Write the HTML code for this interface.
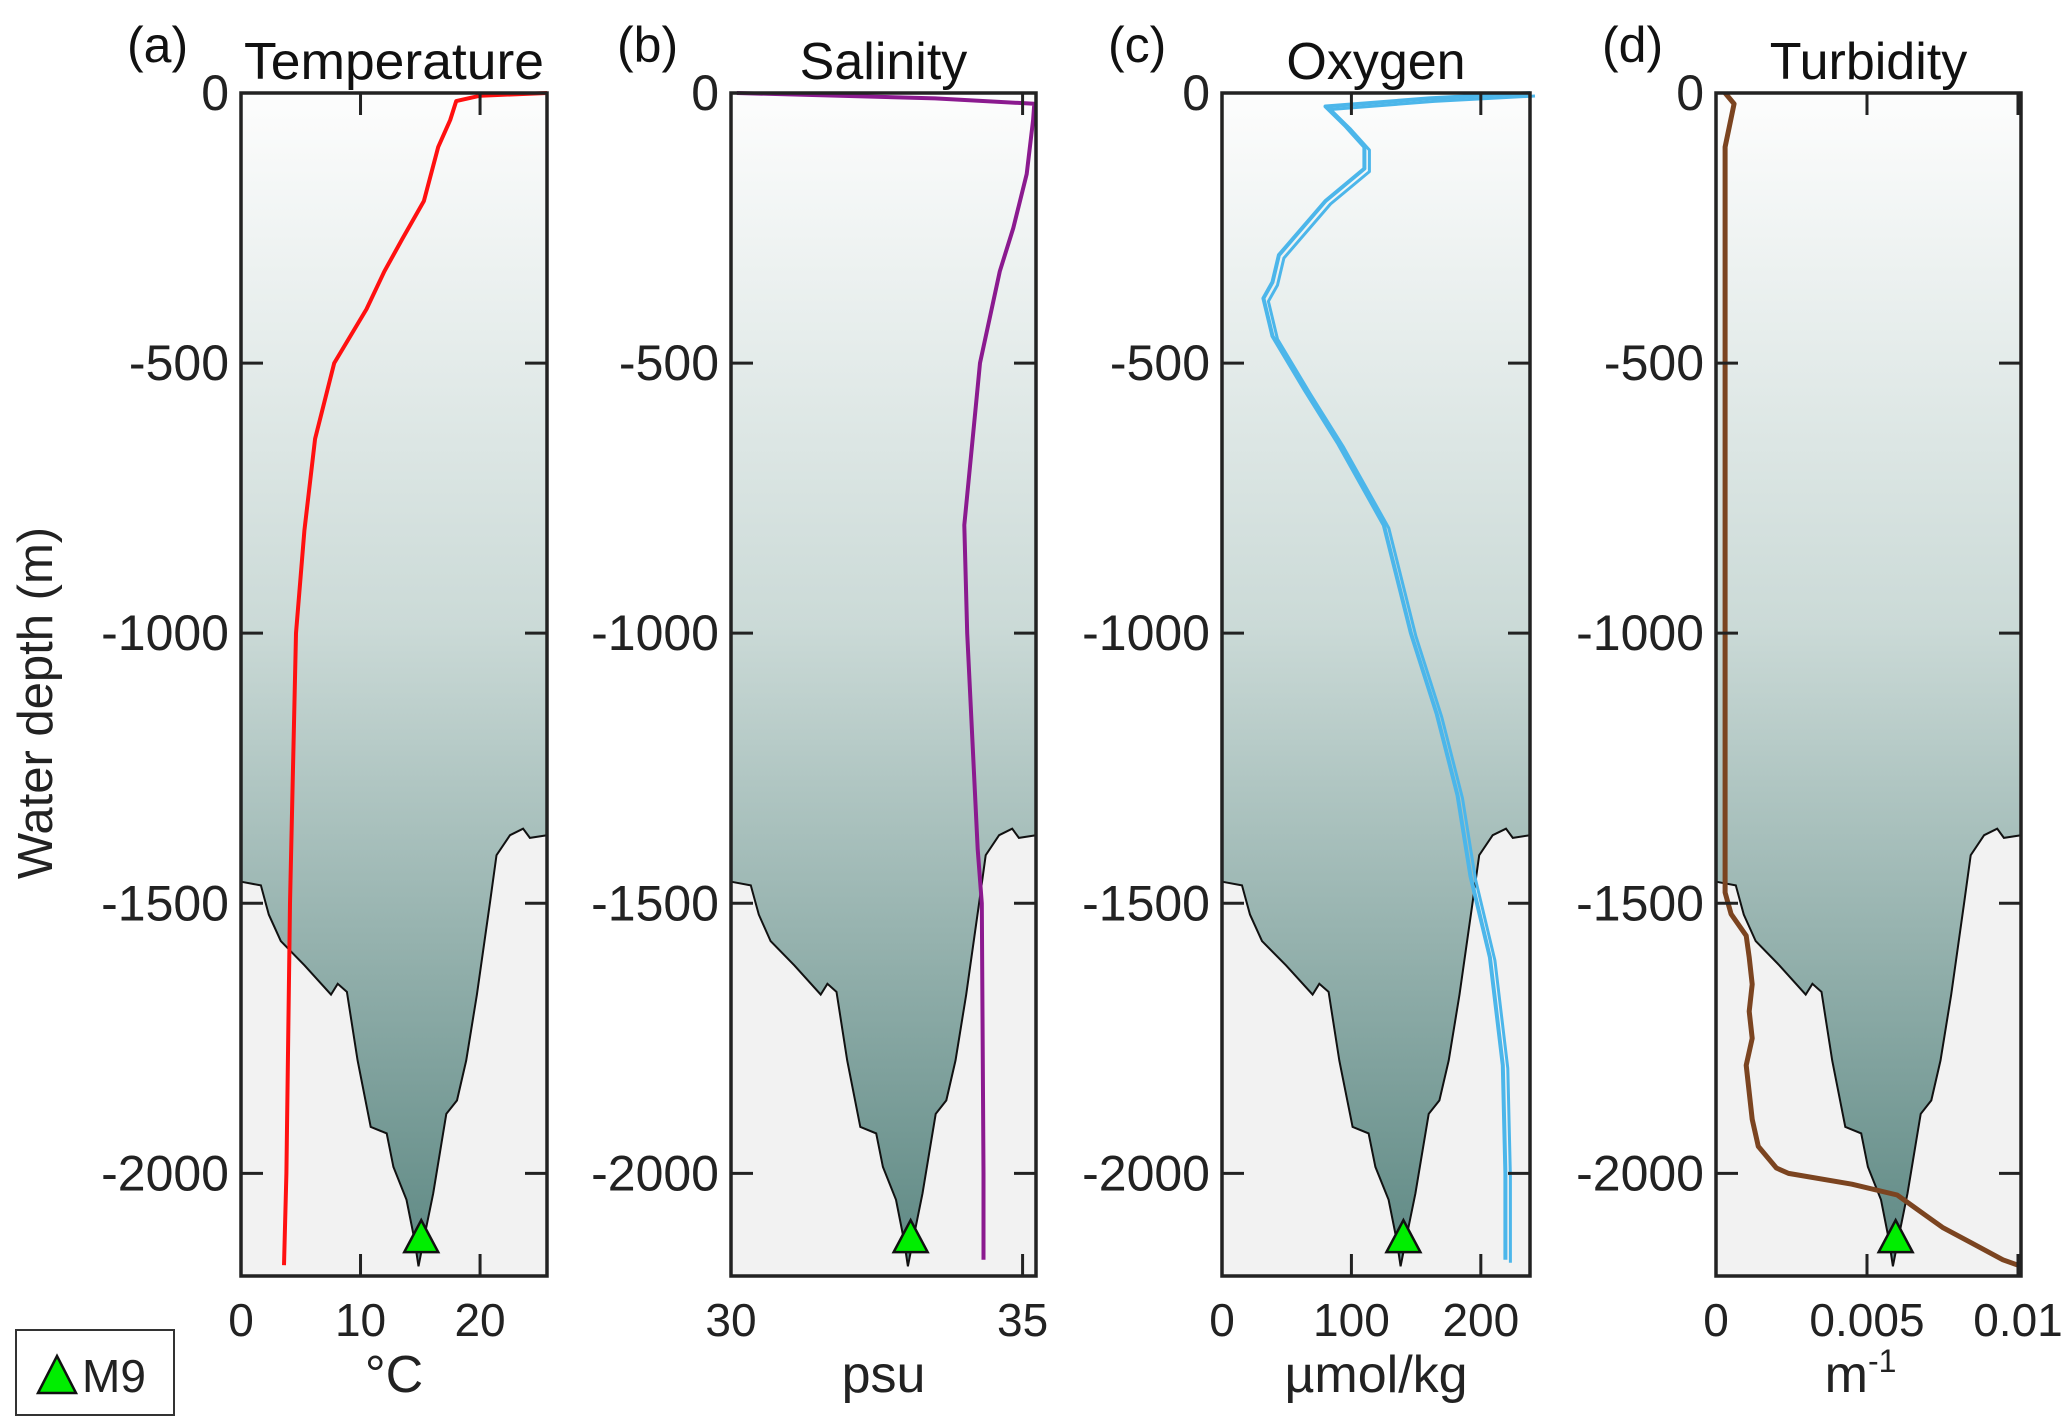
<!DOCTYPE html>
<html><head><meta charset="utf-8">
<style>
html,body{margin:0;padding:0;background:#fff;}
svg{display:block;font-family:"Liberation Sans",Arial,sans-serif;}
</style></head>
<body>
<svg id="chart" width="2067" height="1428" viewBox="0 0 2067 1428">
<defs>
<linearGradient id="water" x1="0" y1="0" x2="0" y2="1">
<stop offset="0" stop-color="#fdfdfd"/>
<stop offset="0.45" stop-color="#cbdad7"/>
<stop offset="1" stop-color="#5c8782"/>
</linearGradient>
</defs>
<text x="52" y="703" transform="rotate(-90 52 703)" text-anchor="middle" font-size="49" fill="#222">Water depth (m)</text>
<g>
<rect x="16" y="1330" width="158" height="85" fill="#fff" stroke="#333" stroke-width="2"/>
<polygon points="38,1393 76,1393 57,1356" fill="#00ee00" stroke="#111" stroke-width="2.5"/>
<text x="82" y="1392" font-size="46" fill="#222">M9</text>
</g>
</svg>
<script>
// Depth axis
const depthTicks = [0, -500, -1000, -1500, -2000];
const depthMin = -2190;
// Temperature (°C)
const tempDepth = [0, -5, -15, -50, -100, -200, -270, -330, -400, -500, -640, -810, -1000, -1500, -2000, -2170];
const tempVal = [25.6, 20, 18, 17.5, 16.5, 15.3, 13.5, 12, 10.5, 7.8, 6.2, 5.3, 4.6, 4.1, 3.8, 3.6];
// Salinity (psu)
const salDepth = [0, -10, -20, -50, -150, -250, -330, -500, -800, -1000, -1400, -1500, -2000, -2160];
const salVal = [30.1, 33.5, 35.2, 35.18, 35.07, 34.84, 34.61, 34.27, 34.0, 34.05, 34.23, 34.3, 34.33, 34.33];
// Oxygen (µmol/kg)
const oxyDepth = [0, -10, -25, -60, -100, -140, -200, -300, -350, -380, -450, -550, -650, -800, -1000, -1150, -1300, -1450, -1600, -1800, -2000, -2160];
const oxyVal = [238, 160, 80, 95, 110, 110, 80, 44, 39, 32, 39, 64, 90, 125, 146, 166, 182, 192, 207, 217, 219, 219];
// Turbidity (m^-1)
const turbDepth = [0, -20, -100, -400, -800, -1200, -1480, -1520, -1560, -1600, -1650, -1700, -1750, -1800, -1850, -1900, -1950, -1990, -2000, -2020, -2040, -2060, -2080, -2100, -2130, -2160, -2170];
const turbVal = [0.0003, 0.0006, 0.0003, 0.0003, 0.0003, 0.0003, 0.0003, 0.0005, 0.0010, 0.0011, 0.0012, 0.0011, 0.0012, 0.0010, 0.0011, 0.0012, 0.0014, 0.0020, 0.0024, 0.0045, 0.0060, 0.0065, 0.0070, 0.0075, 0.0085, 0.0095, 0.0100];
// Seafloor terrain (fraction across panel, depth)
const terrFrac = [0, .065, .091, .13, .208, .294, .316, .346, .381, .424, .476, .498, .541, .567, .58, .597, .628, .671, .706, .736, .771, .814, .835, .879, .922, .944, 1];
const terrDepth = [-1460, -1467, -1521, -1570, -1615, -1669, -1649, -1664, -1791, -1914, -1926, -1988, -2049, -2123, -2172, -2123, -2037, -1890, -1865, -1791, -1669, -1497, -1411, -1374, -1362, -1379, -1374];
const stationFrac = 0.589, stationDepth = -2120;

const panels = [
 {id:'temperature', tag:'(a)', title:'Temperature', unit:'°C', x0:241, x1:547, dmin:0, dmax:25.6, ticks:[0,10,20], tl:['0','10','20'], dep:tempDepth, val:tempVal, color:'#ff1010'},
 {id:'salinity', tag:'(b)', title:'Salinity', unit:'psu', x0:731, x1:1036, dmin:30, dmax:35.23, ticks:[30,35], tl:['30','35'], dep:salDepth, val:salVal, color:'#8b1a8f'},
 {id:'oxygen', tag:'(c)', title:'Oxygen', unit:'µmol/kg', x0:1222, x1:1530, dmin:0, dmax:238, ticks:[0,100,200], tl:['0','100','200'], dep:oxyDepth, val:oxyVal, color:'#4cb6ea'},
 {id:'turbidity', tag:'(d)', title:'Turbidity', unit:'m', x0:1716, x1:2021, dmin:0, dmax:0.0101, ticks:[0,0.005,0.01], tl:['0','0.005','0.01'], dep:turbDepth, val:turbVal, color:'#7b4420'}
];
const yTop = 93, yBot = 1276;
function y(d){ return yTop + (d / depthMin) * (yBot - yTop); }
const NS = 'http://www.w3.org/2000/svg';
const svg = document.getElementById('chart');
function mk(tag, attrs, parent){ const e = document.createElementNS(NS, tag); for (const k in attrs) e.setAttribute(k, attrs[k]); (parent||svg).appendChild(e); return e; }

panels.forEach(p => {
  const W = p.x1 - p.x0;
  const x = v => p.x0 + (v - p.dmin) / (p.dmax - p.dmin) * W;
  const g = mk('g', {});
  
  
  const bg = mk('rect', {x:p.x0, y:yTop, width:W, height:yBot-yTop, fill:'url(#water)'}, g);
  
  
  let pts = terrFrac.map((f,i) => (p.x0 + f*W).toFixed(1) + ',' + y(terrDepth[i]).toFixed(1));
  const ground = mk('polygon', {points: pts.join(' ') + ' ' + p.x1 + ',' + yBot + ' ' + p.x0 + ',' + yBot, fill:'#f2f2f2', stroke:'none'}, g);
  
  
  const outline = mk('polyline', {points: pts.join(' '), fill:'none', stroke:'#111', 'stroke-width':2}, g);
  
  
  const lp = p.dep.map((d,i) => x(p.val[i]).toFixed(1) + ',' + y(d).toFixed(1)).join(' ');
  if (p.id === 'oxygen') {
    const l2 = mk('polyline', {points: p.dep.map((d,i) => (x(p.val[i])+5).toFixed(1) + ',' + (y(d)+3).toFixed(1)).join(' '), fill:'none', stroke:p.color, 'stroke-width':3, 'stroke-linejoin':'round'}, g);
    
    
  }
  const line = mk('polyline', {points: lp, fill:'none', stroke:p.color, 'stroke-width':p.id==='turbidity'?5:4, 'stroke-linejoin':'round'}, g);
  
  
  const sx = p.x0 + stationFrac*W, sy = y(stationDepth);
  const m = mk('polygon', {points:`${sx-17},${sy+14} ${sx+17},${sy+14} ${sx},${sy-18}`, fill:'#00ee00', stroke:'#111', 'stroke-width':2.5}, g);
  
  
  const fr = mk('rect', {x:p.x0, y:yTop, width:W, height:yBot-yTop, fill:'none', stroke:'#222', 'stroke-width':3.5}, g);
  
  
  depthTicks.forEach(t => {
    const ty = y(t);
    mk('line', {x1:p.x0, x2:p.x0+22, y1:ty, y2:ty, stroke:'#222', 'stroke-width':3}, g);
    mk('line', {x1:p.x1-22, x2:p.x1, y1:ty, y2:ty, stroke:'#222', 'stroke-width':3}, g);
    const tl = mk('text', {x:p.x0-12, y:ty+17, 'text-anchor':'end', 'font-size':50, fill:'#222'}, g);
    tl.textContent = String(t);
    
    
  });
  p.ticks.forEach((t,i) => {
    const tx = x(t);
    mk('line', {x1:tx, x2:tx, y1:yTop, y2:yTop+22, stroke:'#222', 'stroke-width':3}, g);
    mk('line', {x1:tx, x2:tx, y1:yBot-22, y2:yBot, stroke:'#222', 'stroke-width':3}, g);
    const tl = mk('text', {x:tx, y:1336, 'text-anchor':'middle', 'font-size':46, fill:'#222'}, g);
    tl.textContent = p.tl[i];
    
    
  });
  const tt = mk('text', {x:(p.x0+p.x1)/2, y:79, 'text-anchor':'middle', 'font-size':52, fill:'#111', textLength:W-6, lengthAdjust:'spacingAndGlyphs'}, g);
  if (p.id !== 'temperature') { tt.removeAttribute('textLength'); tt.removeAttribute('lengthAdjust'); }
  tt.textContent = p.title;
  
  
  const tg = mk('text', {x:p.x0-114, y:62, 'font-size':50, fill:'#111'}, g);
  tg.textContent = p.tag;
  
  
  const un = mk('text', {x:(p.x0+p.x1)/2 - (p.id==='turbidity'?8:0), y:1392, 'text-anchor':'middle', 'font-size':52, fill:'#222'}, g);
  un.textContent = p.unit;
  if (p.id === 'turbidity') { const s = mk('tspan', {dy:-20, 'font-size':32}, un); s.textContent = '-1'; }
  
  
});
</script>
</body></html>
